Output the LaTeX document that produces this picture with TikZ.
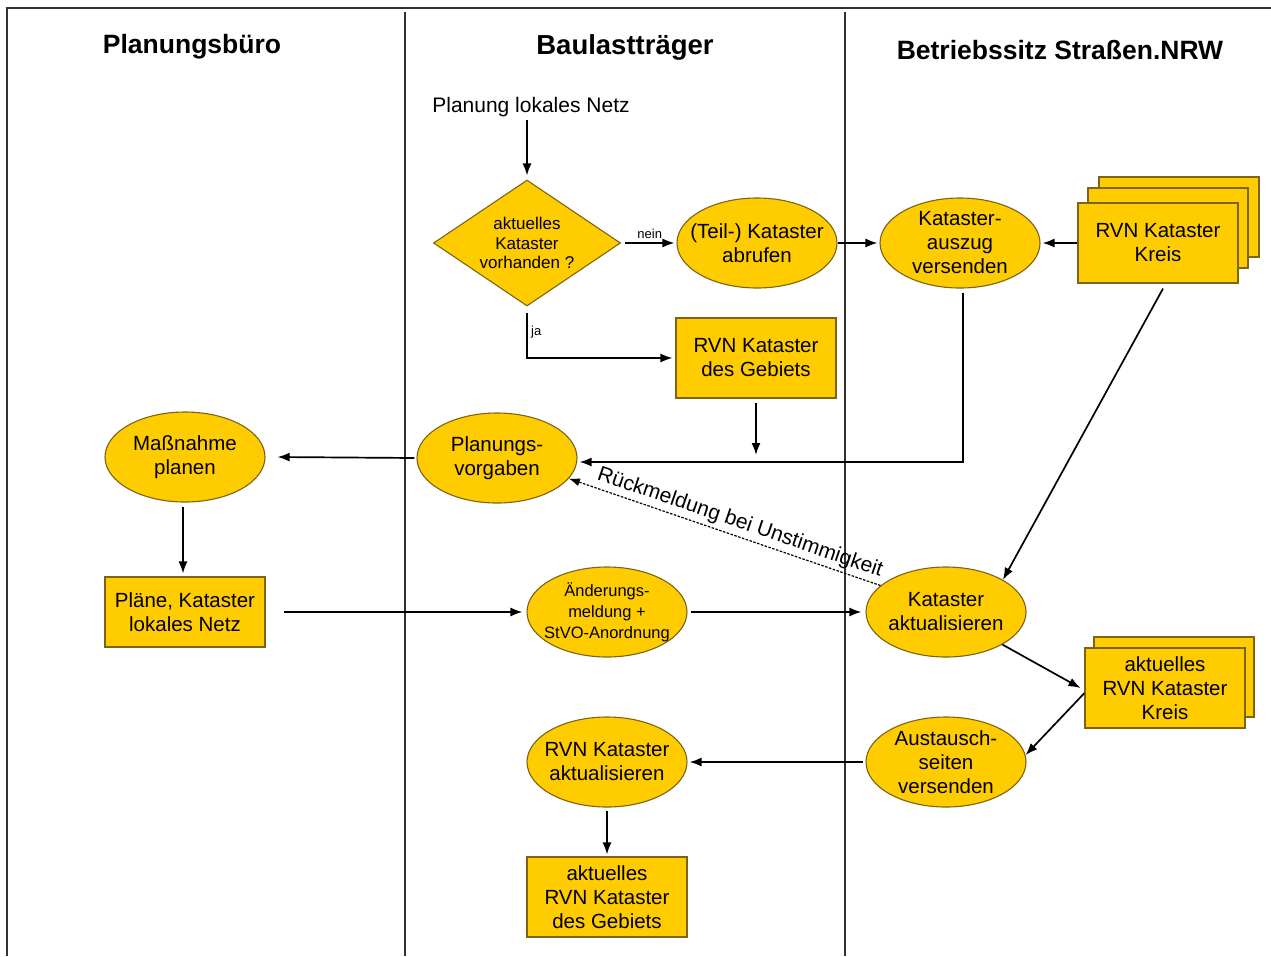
\documentclass[tikz,border=0pt]{standalone}
\usepackage{fontspec}
\setmainfont{Liberation Sans}
\usetikzlibrary{shapes.geometric,arrows.meta}
\definecolor{gold}{RGB}{255,204,0}
\definecolor{rim}{RGB}{125,100,20}
\definecolor{frame}{RGB}{50,50,50}
\begin{document}
\begin{tikzpicture}[x=1pt,y=-1pt,
 ell/.style={ellipse,draw=rim,fill=gold,line width=1.1pt,minimum width=160pt,minimum height=90pt,inner xsep=-40pt,inner ysep=-30pt,align=center,font=\fontsize{20.5}{24}\selectfont},
 box/.style={rectangle,draw=rim,fill=gold,line width=1.1pt,minimum width=160pt,minimum height=80pt,inner sep=0pt,align=center,font=\fontsize{20.5}{24}\selectfont},
 dia/.style={diamond,draw=rim,fill=gold,line width=1.1pt,minimum width=187pt,minimum height=126pt,inner sep=-20pt,aspect=1.5,align=center,font=\fontsize{17}{19.5}\selectfont},
 arr/.style={draw=black,line width=1.7pt,-{Latex[length=12pt,width=9pt]}},
 hdr/.style={font=\bfseries\fontsize{26.5}{30}\selectfont},
 lbl/.style={font=\fontsize{13}{15}\selectfont},
]
\useasboundingbox (0,0) rectangle (1271,956);
% frame
\draw[frame,line width=1.6pt] (7,956) -- (7,8) -- (1271,8);
\draw[frame,line width=1.6pt] (405,12) -- (405,956);
\draw[frame,line width=1.6pt] (845,12) -- (845,956);
% headers
\node[hdr] (h1) at (192,47) {Planungsbüro};
\node[hdr,font=\bfseries\fontsize{27.5}{30}\selectfont] (h2) at (625,47) {Baulastträger};
\node[hdr] (h3) at (1060,50) {Betriebssitz Straßen.NRW};
% nodes
\node[font=\fontsize{21}{24}\selectfont] (start) at (531,107) {Planung lokales Netz};
\node[dia] (q) at (527,243) {aktuelles\\Kataster\\vorhanden ?};
\node[ell] (teil) at (757,243) {(Teil-) Kataster\\abrufen};
\node[ell] (ausz) at (960,243) {Kataster-\\auszug\\versenden};
\node[box] (kreisB) at (1179,217) {};
\node[box] (kreisM) at (1168,228) {};
\node[box] (kreis) at (1158,243) {RVN Kataster\\Kreis};
\node[box] (geb) at (756,358) {RVN Kataster\\des Gebiets};
\node[ell] (pv) at (497,458) {Planungs-\\vorgaben};
\node[ell] (mp) at (185,457) {Maßnahme\\planen};
\node[box,minimum height=70pt] (pl) at (185,612) {Pläne, Kataster\\lokales Netz};
\node[ell,font=\fontsize{16.5}{21}\selectfont] (aend) at (607,612) {Änderungs-\\meldung +\\StVO-Anordnung};
\node[ell] (kakt) at (946,612) {Kataster\\aktualisieren};
\node[box] (akB) at (1174,677) {};
\node[box] (ak) at (1165,688) {aktuelles\\RVN Kataster\\Kreis};
\node[ell] (aus) at (946,762) {Austausch-\\seiten\\versenden};
\node[ell] (rak) at (607,762) {RVN Kataster\\aktualisieren};
\node[box] (akg) at (607,897) {aktuelles\\RVN Kataster\\des Gebiets};
% connectors
\draw[arr] (start.south -| q.north) -- ([yshift=4pt]q.north);
\draw[arr] ([xshift=4pt]q.east) -- node[lbl,above] {nein} ([xshift=-2pt]teil.west);
\draw[arr] ([yshift=-6pt]q.south) |- node[lbl,pos=0.22,right] {ja} ([xshift=-3pt]geb.west);
\draw[arr] (teil.east) -- ([xshift=-2pt]ausz.west);
\draw[arr] (kreis.west) -- ([xshift=2pt]ausz.east);
\draw[arr] ([xshift=3pt,yshift=-4pt]ausz.south) |- ([yshift=-4pt,xshift=2pt]pv.east);
\draw[arr] ([yshift=-4pt]geb.south) -- ([yshift=3pt]geb.south |- pv.east);
\draw[arr] ([xshift=-2pt]pv.west) -- ([xshift=12pt]mp.east);
\draw[arr] ([yshift=-4pt,xshift=-2pt]mp.south) -- ([xshift=-2pt,yshift=3pt]pl.north);
\draw[arr] ([xshift=18pt]pl.east) -- ([xshift=-4pt]aend.west);
\draw[arr] ([xshift=3pt]aend.east) -- ([xshift=-4pt]kakt.west);
\draw[arr] ([xshift=5pt,yshift=-5pt]kreis.south) -- (kakt.north east);
\draw[line width=1.2pt,dash pattern=on 2.5pt off 1.5pt,-{Latex[length=11pt,width=8pt]}] (kakt.158) -- node[pos=0.465,above,sloped,font=\fontsize{21}{24}\selectfont] {Rückmeldung bei Unstimmigkeit} (pv.-16);
\draw[arr] (kakt.-30) -- ([xshift=-4pt]ak.west);
\draw[arr] ([yshift=-5pt]ak.west) -- (aus.5);
\draw[arr] ([xshift=-2pt]aus.west) -- ([xshift=2pt]rak.east);
\draw[arr] ([yshift=-3pt]rak.south) -- ([yshift=2pt]akg.north);
\end{tikzpicture}
\end{document}
